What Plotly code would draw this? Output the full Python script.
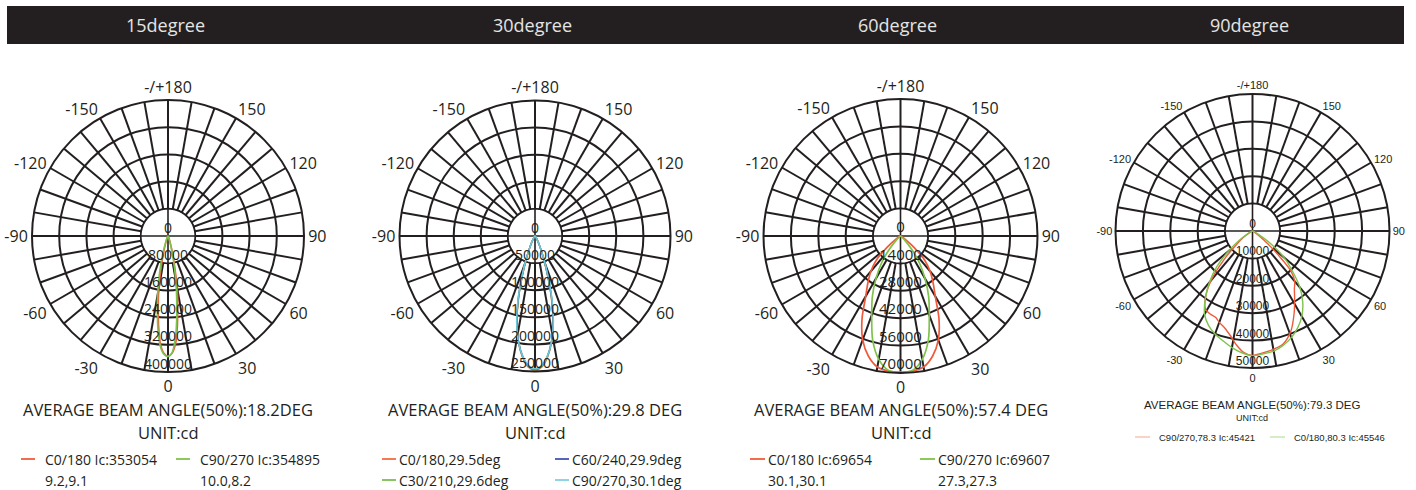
import plotly.graph_objects as go

W, H = 1416, 490

# ---------------- data ----------------
PANEL_TITLES = ["15degree", "30degree", "60degree", "90degree"]
BEAM_TITLES = ["AVERAGE BEAM ANGLE(50%):18.2DEG", "AVERAGE BEAM ANGLE(50%):29.8 DEG",
               "AVERAGE BEAM ANGLE(50%):57.4 DEG", "AVERAGE BEAM ANGLE(50%):79.3 DEG"]
UNIT_TEXT = "UNIT:cd"

ANGLE_TICKS = [0, 10, 20, 30, 40, 50, 60, 70, 80, 90, 100, 110, 120, 130, 140, 150, 160, 170,
               180, 190, 200, 210, 220, 230, 240, 250, 260, 270, 280, 290, 300, 310, 320, 330, 340, 350]
ANGLE_TICK_TEXT = ["0", "", "", "30", "", "", "60", "", "", "90", "", "", "120", "", "", "150", "", "",
                   "-/+180", "", "", "-150", "", "", "-120", "", "", "-90", "", "", "-60", "", "", "-30", "", ""]

RINGS_15 = [80000, 160000, 240000, 320000, 400000]
RINGS_30 = [50000, 100000, 150000, 200000, 250000]
RINGS_60 = [14000, 28000, 42000, 56000, 70000]
RINGS_90 = [10000, 20000, 30000, 40000, 50000]

# 15 degree
G15_C0_THETA = [-90, -60, -45, -30, -22, -18, -15, -13, -11, -9.1, -8, -6, -4, -2, 0,
                2, 4, 6, 8, 9.2, 11, 13, 15, 18, 22, 30, 45, 60, 90]
G15_C0_R = [0, 300, 800, 3000, 9000, 22000, 48000, 80000, 125000, 176500, 205000, 265000, 318000, 345000, 353054,
            345000, 318000, 265000, 205000, 176500, 125000, 80000, 48000, 22000, 9000, 3000, 800, 300, 0]
G15_C90_THETA = [-90, -60, -45, -30, -23, -19, -16, -14, -12, -10, -8, -6, -4, -2, 0,
                 2, 4, 6, 8.2, 10, 12, 14, 17, 21, 30, 45, 60, 90]
G15_C90_R = [0, 300, 1000, 4000, 12000, 30000, 60000, 90000, 130000, 177000, 225000, 280000, 325000, 348000, 354895,
             343000, 305000, 245000, 177000, 130000, 85000, 50000, 22000, 9000, 3000, 800, 300, 0]

# 30 degree
G30_THETA = [-90, -60, -45, -35, -28, -24, -21, -18, -15, -12, -9, -6, -3, 0,
             3, 6, 9, 12, 15, 18, 21, 24, 28, 35, 45, 60, 90]
G30_C0_R = [0, 500, 1500, 4000, 11500, 24000, 43000, 72000, 116000, 160000, 197000, 224000, 242000, 248000,
            242000, 224000, 197000, 160000, 116000, 72000, 43000, 24000, 11500, 4000, 1500, 500, 0]
G30_C30_R = [0, 500, 1500, 4000, 11800, 24500, 44000, 73000, 117000, 160000, 196000, 223000, 241000, 247000,
             241000, 223000, 196000, 160000, 117000, 73000, 44000, 24500, 11800, 4000, 1500, 500, 0]
G30_C60_R = [0, 500, 1500, 4100, 12000, 25000, 45000, 75000, 119000, 161000, 196000, 222000, 240000, 246000,
             240000, 222000, 196000, 161000, 119000, 75000, 45000, 25000, 12000, 4100, 1500, 500, 0]
G30_C90_R = [0, 500, 1500, 4200, 12300, 25500, 46000, 76500, 121000, 163000, 197000, 222000, 239000, 245000,
             239000, 222000, 197000, 163000, 121000, 76500, 46000, 25500, 12300, 4200, 1500, 500, 0]

# 60 degree
G60_THETA = [-90, -70, -60, -55, -50, -45, -40, -35, -30, -25, -20, -15, -10, -5, 0,
             5, 10, 15, 20, 25, 30, 35, 40, 45, 50, 55, 60, 70, 90]
G60_C0_R = [0, 100, 800, 3000, 9000, 17500, 23500, 29000, 35500, 46500, 56500, 63500, 68000, 69300, 69654,
            69300, 68000, 63500, 56500, 46500, 35500, 29000, 23500, 17500, 9000, 3000, 800, 100, 0]
G60_C90_R = [0, 100, 300, 500, 1200, 3500, 9000, 17000, 25000, 34000, 43000, 55000, 64000, 69000, 69607,
             69000, 64000, 55000, 43000, 34000, 25000, 17000, 9000, 3500, 1200, 500, 300, 100, 0]

# 90 degree
G90_C90_THETA = [-90, -70, -60, -55, -50, -45, -40, -35, -31, -27, -23, -20, -16, -12, -8, -4, 0,
                 4, 8, 15, 21, 27, 32, 36, 40, 44, 47, 50, 55, 60, 70, 90]
G90_C90_R = [0, 200, 1500, 4000, 7500, 14500, 23500, 30000, 33300, 34000, 34300, 35500, 36800, 39000, 42000, 44500, 45421,
             44800, 44200, 42800, 39100, 33500, 29000, 26000, 24000, 20000, 13000, 7500, 2500, 800, 200, 0]
G90_C0_THETA = [-90, -70, -60, -55, -50, -45, -40, -35, -30, -25, -20, -15, -10, -5, 0,
                5, 10, 15, 20, 25, 30, 35, 40, 45, 50, 55, 60, 70, 90]
G90_C0_R = [0, 300, 2000, 6000, 11500, 18500, 24500, 30000, 35000, 38000, 40000, 41500, 43200, 44600, 45546,
            45000, 44500, 43200, 41400, 39000, 36000, 32000, 27000, 20500, 15000, 8000, 2500, 400, 0]

# ---------------- styling ----------------
INK = "#231f20"
RED = "#f05a3a"
GREEN = "#7dc24b"
BLUE = "#4f5fb0"
CYAN = "#6cc8d8"
ORANGE = "#f26b3a"
FONT = "Open Sans"
FONT4 = "Liberation Sans"

# (center x, center y, radius) in pixels, top-left origin
GEOM = [(168, 236, 136), (535, 236, 135.5), (900.5, 236, 137), (1252.5, 231, 137)]


def px(x):
    return x / W


def py(y):
    return 1 - y / H


fig = go.Figure()

panels = [
    dict(rings=RINGS_15, curves=[(G15_C0_THETA, G15_C0_R, RED), (G15_C90_THETA, G15_C90_R, GREEN)],
         tick=16, lab=14, font=FONT, lw=1.6),
    dict(rings=RINGS_30, curves=[(G30_THETA, G30_C0_R, ORANGE), (G30_THETA, G30_C30_R, GREEN),
                                  (G30_THETA, G30_C60_R, BLUE), (G30_THETA, G30_C90_R, CYAN)],
         tick=16, lab=14, font=FONT, lw=1.5),
    dict(rings=RINGS_60, curves=[(G60_THETA, G60_C0_R, RED), (G60_THETA, G60_C90_R, GREEN)],
         tick=16, lab=15, font=FONT, lw=1.7),
    dict(rings=RINGS_90, curves=[(G90_C90_THETA, G90_C90_R, RED), (G90_C0_THETA, G90_C0_R, GREEN)],
         tick=11, lab=12, font=FONT4, lw=1.4),
]

circle_theta = list(range(0, 361, 5))

for i, p in enumerate(panels):
    sub = "polar" if i == 0 else f"polar{i + 1}"
    inner = p["rings"][0]
    # inner white disc hiding the spokes
    fig.add_trace(go.Scatterpolar(r=[inner] * len(circle_theta), theta=circle_theta, mode="lines",
                                  fill="toself", fillcolor="white", line=dict(color=INK, width=1.6),
                                  subplot=sub, showlegend=False, hoverinfo="skip"))
    # cross inside the inner disc
    fig.add_trace(go.Scatterpolar(r=[inner, 0, inner, None, inner, 0, inner],
                                  theta=[180, 180, 0, None, 90, 90, 270], mode="lines",
                                  line=dict(color=INK, width=1.6), subplot=sub,
                                  showlegend=False, hoverinfo="skip"))
    for th, rr, col in p["curves"]:
        fig.add_trace(go.Scatterpolar(r=rr, theta=th, mode="lines",
                                      line=dict(color=col, width=p["lw"], shape="spline", smoothing=0.8),
                                      subplot=sub, showlegend=False))
    labels = ["0"] + [str(v) for v in p["rings"]]
    fig.add_trace(go.Scatterpolar(r=[0] + p["rings"], theta=[180] + [0] * len(p["rings"]), mode="text",
                                  text=labels, textposition="top center",
                                  textfont=dict(family=p["font"], size=p["lab"], color=INK),
                                  subplot=sub, showlegend=False, hoverinfo="skip"))

    cx, cy, R = GEOM[i]
    fig.layout[sub] = dict(
        domain=dict(x=[px(cx - R), px(cx + R)], y=[py(cy + R), py(cy - R)]),
        bgcolor="white",
        radialaxis=dict(range=[0, p["rings"][-1]], tickmode="array", tickvals=p["rings"],
                        showticklabels=False, ticks="", showline=False,
                        gridcolor=INK, gridwidth=1.6),
        angularaxis=dict(rotation=-90, direction="counterclockwise", tickmode="array",
                         tickvals=ANGLE_TICKS, ticktext=ANGLE_TICK_TEXT, ticks="",
                         showline=True, linecolor=INK, linewidth=2,
                         gridcolor=INK, gridwidth=1.5,
                         tickfont=dict(family=p["font"], size=p["tick"], color=INK)),
    )

shapes = [dict(type="rect", xref="paper", yref="paper", x0=px(7), x1=px(1404), y0=py(44), y1=py(6),
               fillcolor="#231f20", line=dict(width=0), layer="below")]
annotations = []

for i, t in enumerate(PANEL_TITLES):
    annotations.append(dict(x=px(GEOM[i][0] - 3), y=py(25), xref="paper", yref="paper", text=t,
                            showarrow=False, xanchor="center", yanchor="middle",
                            font=dict(family=FONT, size=18, color="#e4e4e4")))

for i in range(3):
    cx = GEOM[i][0]
    annotations.append(dict(x=px(cx), y=py(409), xref="paper", yref="paper", text=BEAM_TITLES[i],
                            showarrow=False, xanchor="center", yanchor="middle",
                            font=dict(family=FONT, size=16.5, color=INK)))
    annotations.append(dict(x=px(cx), y=py(432), xref="paper", yref="paper", text=UNIT_TEXT,
                            showarrow=False, xanchor="center", yanchor="middle",
                            font=dict(family=FONT, size=16.5, color=INK)))
annotations.append(dict(x=px(1252), y=py(405), xref="paper", yref="paper", text=BEAM_TITLES[3],
                        showarrow=False, xanchor="center", yanchor="middle",
                        font=dict(family=FONT4, size=11.5, color=INK)))
annotations.append(dict(x=px(1252), y=py(418), xref="paper", yref="paper", text=UNIT_TEXT,
                        showarrow=False, xanchor="center", yanchor="middle",
                        font=dict(family=FONT4, size=9, color=INK)))

LEGEND_ITEMS = [
    # (dash x0, dash x1, y, colour, text x, text, font, size, dash width)
    (21, 35, 459, "#f26d50", 43, "C0/180 Ic:353054", FONT, 14, 2),
    (176, 190, 459, "#8cc85a", 198, "C90/270 Ic:354895", FONT, 14, 2),
    (None, None, 480, None, 43, "9.2,9.1", FONT, 14, 0),
    (None, None, 480, None, 198, "10.0,8.2", FONT, 14, 0),
    (382, 396, 459, "#f47a52", 397, "C0/180,29.5deg", FONT, 14, 2),
    (555, 569, 459, "#5864b4", 570, "C60/240,29.9deg", FONT, 14, 2),
    (382, 396, 480, "#86c464", 397, "C30/210,29.6deg", FONT, 14, 2),
    (555, 569, 480, "#8fd4e2", 570, "C90/270,30.1deg", FONT, 14, 2),
    (750, 765, 459, "#f26d50", 766, "C0/180 Ic:69654", FONT, 14, 2),
    (920, 935, 459, "#8cc85a", 936, "C90/270 Ic:69607", FONT, 14, 2),
    (None, None, 480, None, 766, "30.1,30.1", FONT, 14, 0),
    (None, None, 480, None, 936, "27.3,27.3", FONT, 14, 0),
    (1135, 1150, 437, "#f7a58e", 1157, "C90/270,78.3 Ic:45421", FONT4, 9.5, 1),
    (1270, 1285, 437, "#acd98c", 1292, "C0/180,80.3 Ic:45546", FONT4, 9.5, 1),
]
for x0, x1, y, col, tx, txt, fnt, sz, dw in LEGEND_ITEMS:
    if x0 is not None:
        shapes.append(dict(type="line", xref="paper", yref="paper", x0=px(x0), x1=px(x1),
                           y0=py(y), y1=py(y), line=dict(color=col, width=dw)))
    annotations.append(dict(x=px(tx), y=py(y), xref="paper", yref="paper", text=txt, showarrow=False,
                            xanchor="left", yanchor="middle", font=dict(family=fnt, size=sz, color=INK)))

fig.update_layout(width=W, height=H, margin=dict(l=0, r=0, t=0, b=0), template="none",
                  paper_bgcolor="white", plot_bgcolor="white", showlegend=False,
                  shapes=shapes, annotations=annotations)

fig.write_html("out.html", config={"displayModeBar": False},
               post_script="document.body.style.margin='0px';")
